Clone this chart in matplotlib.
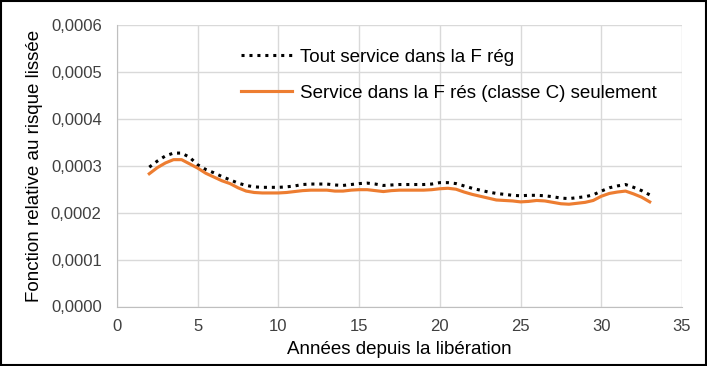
import numpy as np
import matplotlib.pyplot as plt
from matplotlib.ticker import FuncFormatter, MultipleLocator
from matplotlib.patches import Rectangle

plt.rcParams['font.family'] = ['Liberation Sans', 'DejaVu Sans']

# annees depuis la liberation
annees = np.arange(2.0, 33.01, 0.5)

# Tout service dans la F reg
tout_service = [0.000297, 0.000310, 0.000321, 0.000327, 0.000327, 0.000318, 0.000302, 0.000292,
                0.000285, 0.000277, 0.000270, 0.000263, 0.000258, 0.000255, 0.000254, 0.000254,
                0.000254, 0.000255, 0.000257, 0.000260, 0.000261, 0.000261, 0.000261, 0.000259,
                0.000258, 0.000260, 0.000262, 0.000263, 0.000261, 0.000258, 0.000259, 0.000260,
                0.000260, 0.000260, 0.000260, 0.000261, 0.000264, 0.000264, 0.000262, 0.000257,
                0.000252, 0.000248, 0.000244, 0.000241, 0.000239, 0.000237, 0.000236, 0.000237,
                0.000237, 0.000236, 0.000234, 0.000231, 0.000230, 0.000232, 0.000234, 0.000238,
                0.000246, 0.000253, 0.000257, 0.000260, 0.000254, 0.000247, 0.000238]

# Service dans la F res (classe C) seulement
classe_c = [0.000283, 0.000296, 0.000306, 0.000313, 0.000313, 0.000304, 0.000295, 0.000284,
            0.000276, 0.000268, 0.000262, 0.000253, 0.000246, 0.000243, 0.000242, 0.000242,
            0.000242, 0.000243, 0.000245, 0.000247, 0.000248, 0.000248, 0.000248, 0.000246,
            0.000246, 0.000248, 0.000249, 0.000249, 0.000247, 0.000245, 0.000247, 0.000248,
            0.000248, 0.000248, 0.000248, 0.000249, 0.000251, 0.000252, 0.000250, 0.000244,
            0.000239, 0.000235, 0.000231, 0.000227, 0.000226, 0.000225, 0.000223, 0.000224,
            0.000226, 0.000225, 0.000222, 0.000219, 0.000218, 0.000220, 0.000222, 0.000226,
            0.000235, 0.000241, 0.000244, 0.000246, 0.000240, 0.000233, 0.000223]

fig = plt.figure(figsize=(7.07, 3.66), dpi=100)
ax = fig.add_axes([117 / 707, 1 - 306.5 / 366, 565 / 707, 281.5 / 366])

ax.plot(annees, tout_service, color='black', linestyle=(0, (1, 1.6)), linewidth=2.2,
        label='Tout service dans la F rég')
ax.plot(annees, classe_c, color='#ED7D31', linewidth=2.25,
        label='Service dans la F rés (classe C) seulement')

ax.set_xlim(0, 35)
ax.set_ylim(0, 0.0006)
ax.xaxis.set_major_locator(MultipleLocator(5))
ax.yaxis.set_major_locator(MultipleLocator(0.0001))
ax.yaxis.set_major_formatter(FuncFormatter(lambda v, p: f'{v:.4f}'.replace('.', ',')))

ax.grid(True, color='#D9D9D9', linewidth=1)
ax.set_axisbelow(True)
for s in ['top', 'right']:
    ax.spines[s].set_visible(False)
for s in ['left', 'bottom']:
    ax.spines[s].set_color('#BFBFBF')
ax.tick_params(length=0, labelsize=12, colors='#404040')
ax.tick_params(axis='y', pad=11)
ax.tick_params(axis='x', pad=9)

ax.set_xlabel('Années depuis la libération', fontsize=13.5, color='black', labelpad=5)
ax.set_ylabel('Fonction relative au risque lissée', fontsize=13.5, color='black', labelpad=6)

ax.legend(loc='upper left', bbox_to_anchor=(0.19, 0.975), frameon=False, fontsize=13.5,
          handlelength=2.7, labelspacing=1.0, handletextpad=0.45)

fig.patches.append(Rectangle((0.002, 0.003), 0.996, 0.994, transform=fig.transFigure,
                             fill=False, edgecolor='black', linewidth=1.5))

fig.savefig('out.png', dpi=100)
